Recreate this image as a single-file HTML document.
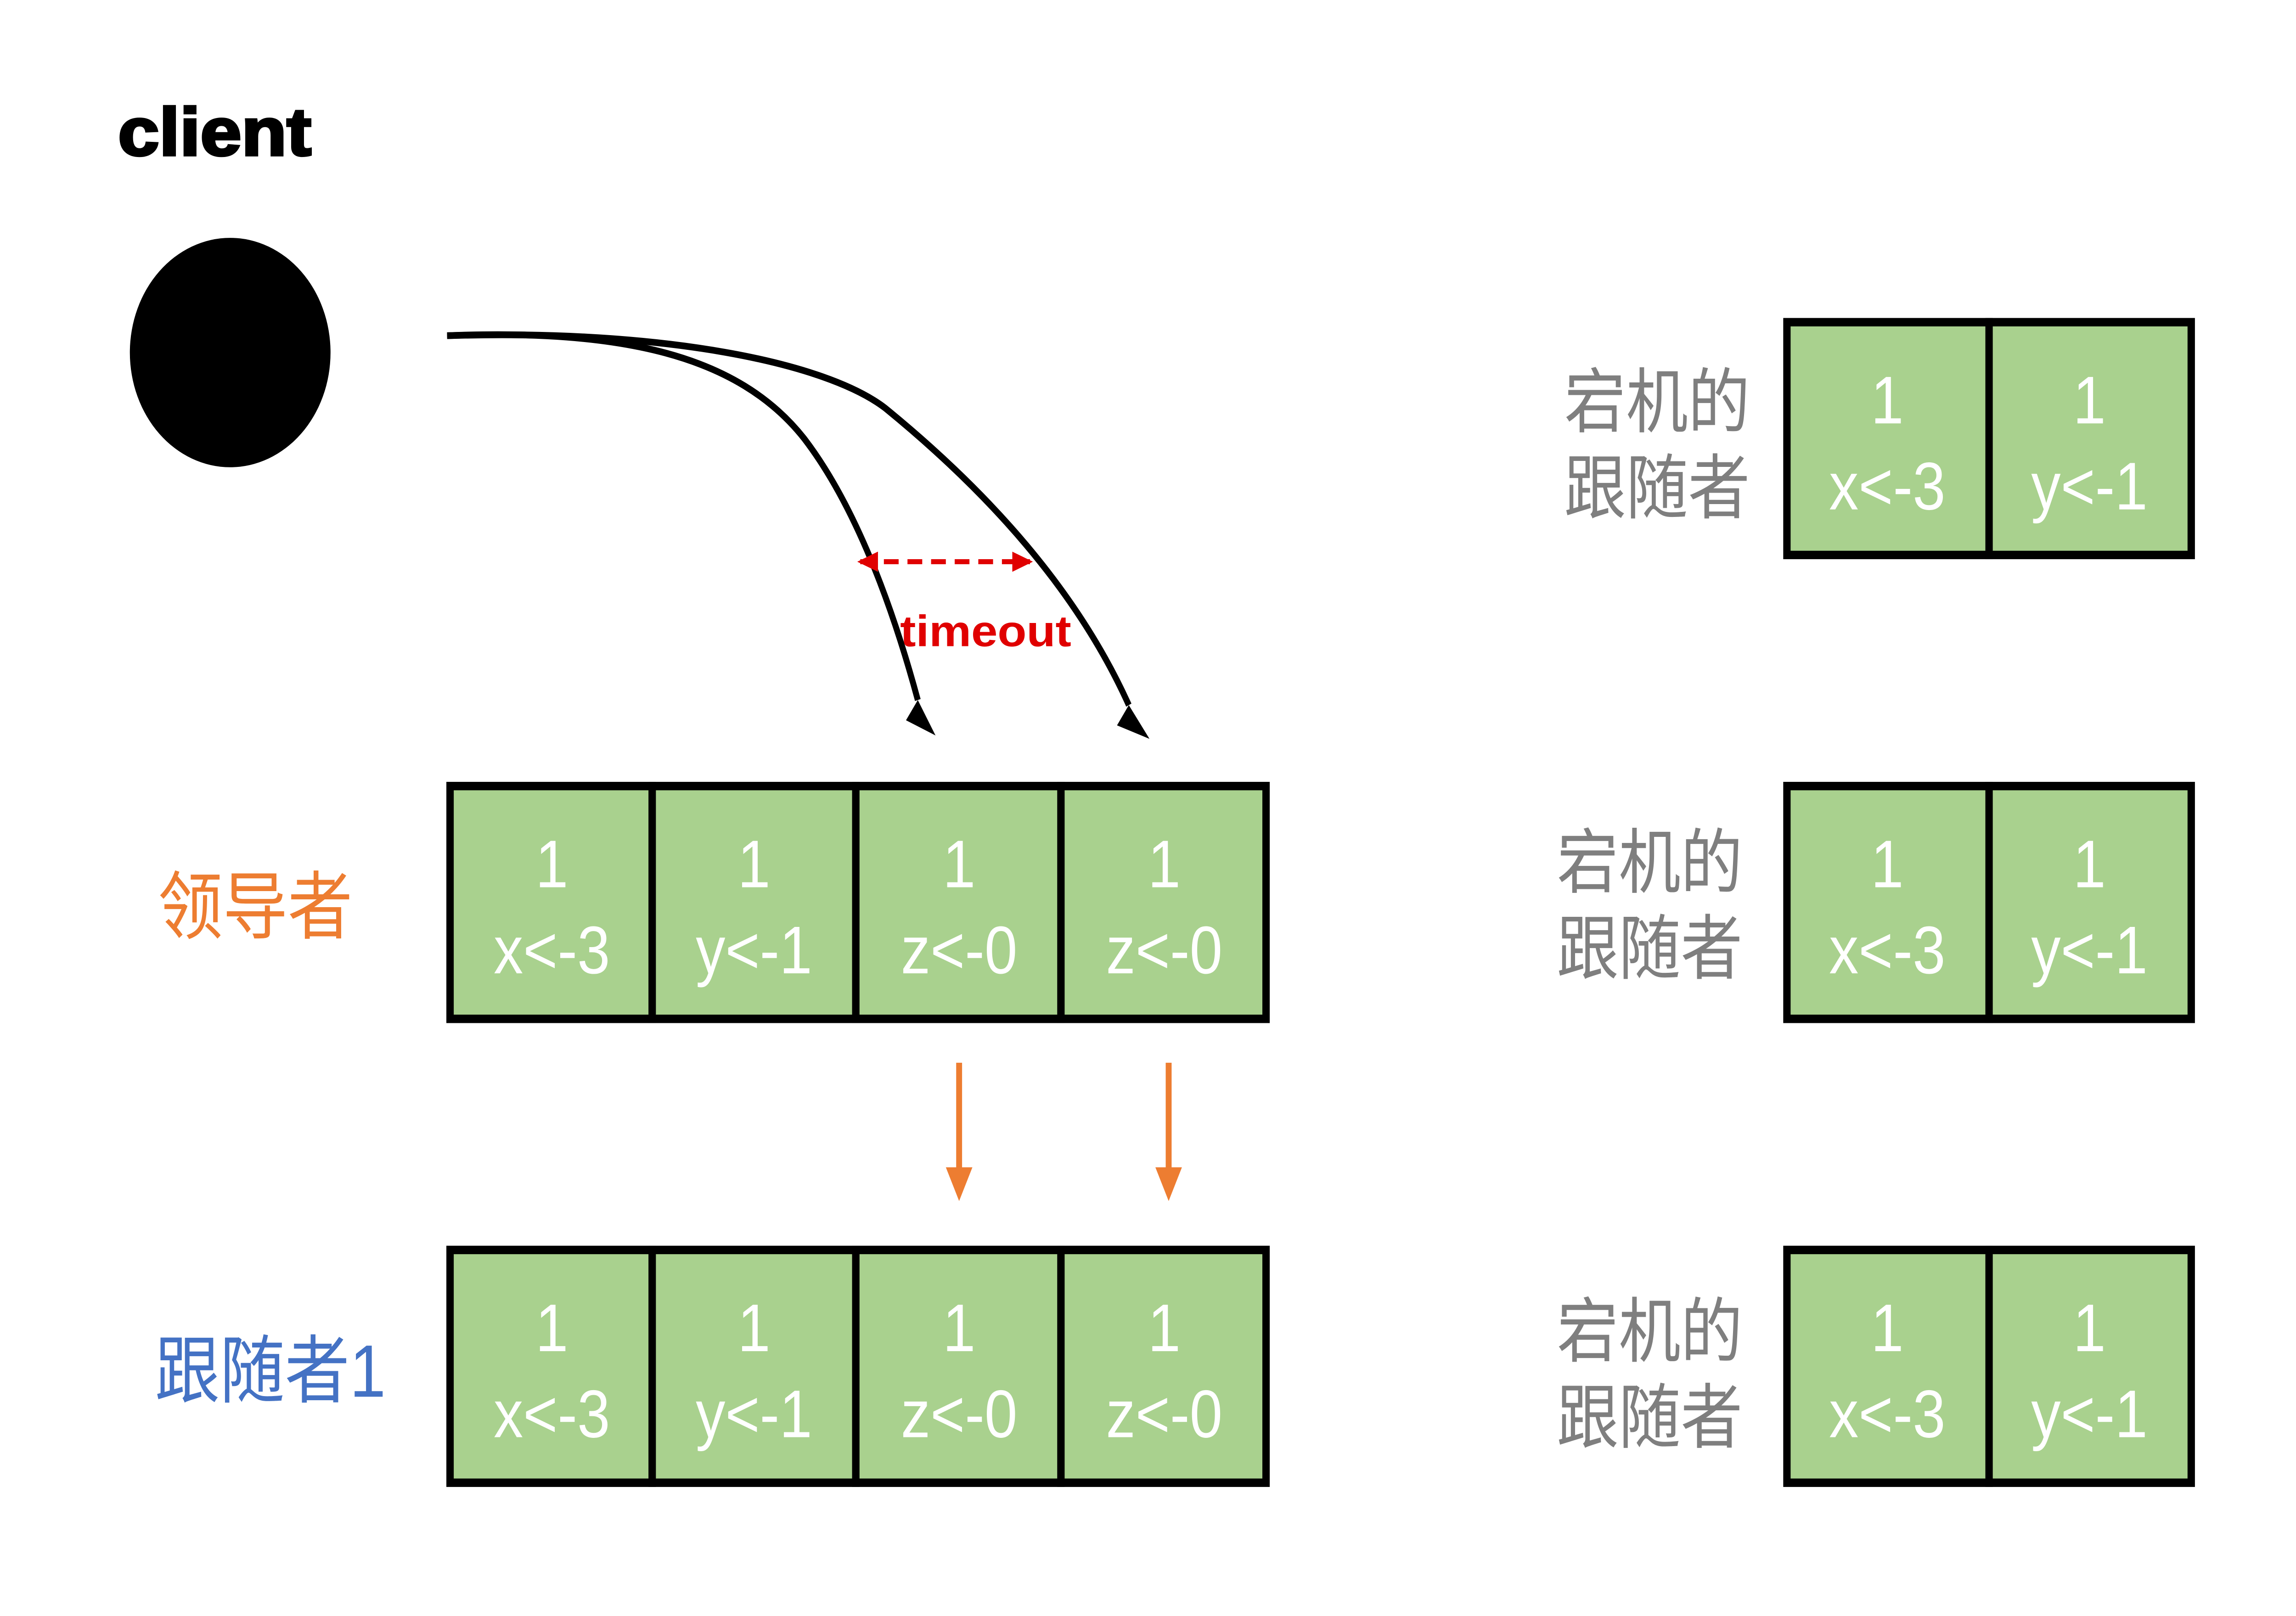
<!DOCTYPE html>
<html><head><meta charset="utf-8">
<style>
html,body{margin:0;padding:0;background:#fff;width:100%;height:100%;overflow:hidden;}
svg{display:block;width:100vw;height:100vh;}
</style></head>
<body>
<svg viewBox="0 0 1556 958" preserveAspectRatio="none" xmlns="http://www.w3.org/2000/svg">
<defs>
<marker id="ar" markerWidth="14" markerHeight="12" refX="12" refY="6" orient="auto" markerUnits="userSpaceOnUse">
<path d="M0,0 L14,6 L0,12 Z" fill="#e00000"/></marker>
<marker id="arS" markerWidth="14" markerHeight="12" refX="2" refY="6" orient="auto" markerUnits="userSpaceOnUse">
<path d="M14,0 L0,6 L14,12 Z" fill="#e00000"/></marker>
</defs>
<rect width="1556" height="958" fill="#fff"/>
<text x="80" y="92" font-family="Liberation Sans, sans-serif" font-weight="bold" font-size="40" fill="#000" stroke="#000" stroke-width="1.5" textLength="131" lengthAdjust="spacingAndGlyphs">client</text>
<circle cx="156" cy="209" r="68" fill="#000"/>

<path d="M303,199 C420,195 500,210 545,260 C580,300 605,360 622,415" fill="none" stroke="#000" stroke-width="4"/>
<path d="M622,415 L634,436 L614,427 Z" fill="#000"/>
<path d="M303,199 C450,195 560,215 600,242 C670,292 730,350 765,418" fill="none" stroke="#000" stroke-width="4"/>
<path d="M765,418 L779,438 L757,430 Z" fill="#000"/>

<line x1="583" y1="333" x2="698" y2="333" stroke="#e00000" stroke-width="3" stroke-dasharray="10,6" marker-end="url(#ar)" marker-start="url(#arS)"/>
<text x="610" y="383" font-family="Liberation Sans, sans-serif" font-weight="bold" font-size="26" fill="#e00000" textLength="116" lengthAdjust="spacingAndGlyphs">timeout</text>

<g font-family="Liberation Sans, Noto Sans CJK SC, sans-serif" font-size="44">
<text x="107" y="553" fill="#ed7d31">领导者</text>
<text x="105" y="828" fill="#4472c4">跟随者1</text>
<g fill="#7f7f7f" font-size="42">
<text x="1060" y="253">宕机的</text><text x="1060" y="304">跟随者</text>
<text x="1055" y="526">宕机的</text><text x="1055" y="577">跟随者</text>
<text x="1055" y="804">宕机的</text><text x="1055" y="855">跟随者</text>
</g>
</g>

<g stroke="#ed7d31" stroke-width="4" fill="#ed7d31">
<line x1="650" y1="630" x2="650" y2="695"/><path d="M641,692 L659,692 L650,712 Z" stroke="none"/>
<line x1="792" y1="630" x2="792" y2="695"/><path d="M783,692 L801,692 L792,712 Z" stroke="none"/>
</g>

<g font-family="Liberation Sans, sans-serif" font-size="40" fill="#fff" text-anchor="middle">
<g>
<rect x="305" y="466" width="137" height="138" fill="#a9d18e" stroke="#000" stroke-width="5"/>
<rect x="442" y="466" width="138" height="138" fill="#a9d18e" stroke="#000" stroke-width="5"/>
<rect x="580" y="466" width="139" height="138" fill="#a9d18e" stroke="#000" stroke-width="5"/>
<rect x="719" y="466" width="139" height="138" fill="#a9d18e" stroke="#000" stroke-width="5"/>
<text x="374" y="526">1</text><text x="374" y="577">x&lt;-3</text>
<text x="511" y="526">1</text><text x="511" y="577">y&lt;-1</text>
<text x="650" y="526">1</text><text x="650" y="577">z&lt;-0</text>
<text x="789" y="526">1</text><text x="789" y="577">z&lt;-0</text>
</g>
<g>
<rect x="305" y="741" width="137" height="138" fill="#a9d18e" stroke="#000" stroke-width="5"/>
<rect x="442" y="741" width="138" height="138" fill="#a9d18e" stroke="#000" stroke-width="5"/>
<rect x="580" y="741" width="139" height="138" fill="#a9d18e" stroke="#000" stroke-width="5"/>
<rect x="719" y="741" width="139" height="138" fill="#a9d18e" stroke="#000" stroke-width="5"/>
<text x="374" y="801">1</text><text x="374" y="852">x&lt;-3</text>
<text x="511" y="801">1</text><text x="511" y="852">y&lt;-1</text>
<text x="650" y="801">1</text><text x="650" y="852">z&lt;-0</text>
<text x="789" y="801">1</text><text x="789" y="852">z&lt;-0</text>
</g>
<g>
<rect x="1211" y="191" width="137" height="138" fill="#a9d18e" stroke="#000" stroke-width="5"/>
<rect x="1348" y="191" width="137" height="138" fill="#a9d18e" stroke="#000" stroke-width="5"/>
<text x="1279" y="251">1</text><text x="1279" y="302">x&lt;-3</text>
<text x="1416" y="251">1</text><text x="1416" y="302">y&lt;-1</text>
<rect x="1211" y="466" width="137" height="138" fill="#a9d18e" stroke="#000" stroke-width="5"/>
<rect x="1348" y="466" width="137" height="138" fill="#a9d18e" stroke="#000" stroke-width="5"/>
<text x="1279" y="526">1</text><text x="1279" y="577">x&lt;-3</text>
<text x="1416" y="526">1</text><text x="1416" y="577">y&lt;-1</text>
<rect x="1211" y="741" width="137" height="138" fill="#a9d18e" stroke="#000" stroke-width="5"/>
<rect x="1348" y="741" width="137" height="138" fill="#a9d18e" stroke="#000" stroke-width="5"/>
<text x="1279" y="801">1</text><text x="1279" y="852">x&lt;-3</text>
<text x="1416" y="801">1</text><text x="1416" y="852">y&lt;-1</text>
</g>
</g>
</svg>
</body></html>
